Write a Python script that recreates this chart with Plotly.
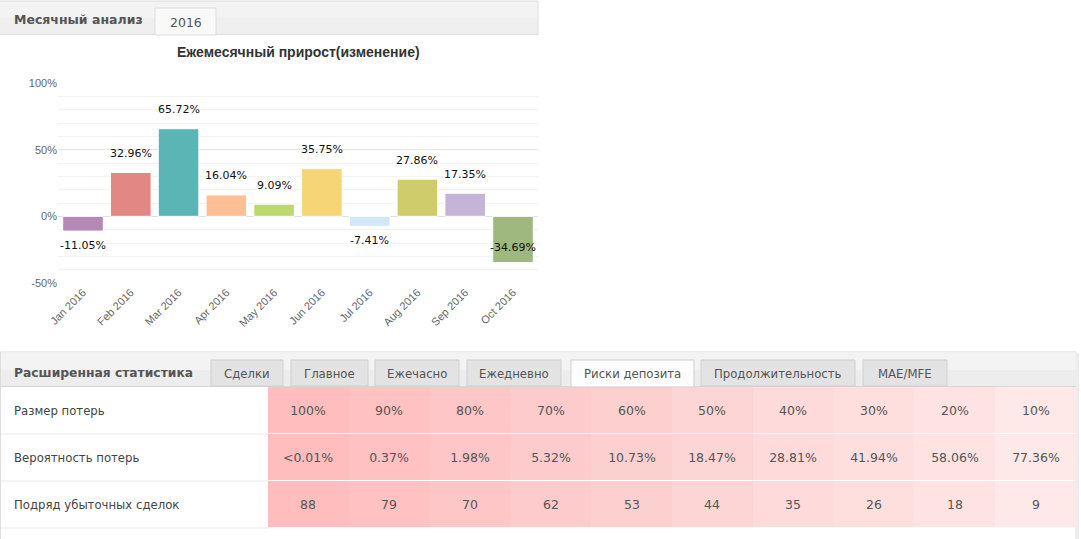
import plotly.graph_objects as go

W, H = 1081, 539

# ---------------- data ----------------
months = ["Jan 2016", "Feb 2016", "Mar 2016", "Apr 2016", "May 2016",
          "Jun 2016", "Jul 2016", "Aug 2016", "Sep 2016", "Oct 2016"]
growth = [-11.05, 32.96, 65.72, 16.04, 9.09, 35.75, -7.41, 27.86, 17.35, -34.69]
bar_colors = ["#b588b5", "#e38785", "#5bb5b5", "#ffbf94", "#bdd96b",
              "#f5d575", "#d1e6f7", "#cfcc6b", "#c4b5d6", "#9eb87f"]
y_tickvals = [-50, 0, 50, 100]
y_ticktext = ["-50%", "0%", "50%", "100%"]

row_labels = ["Размер потерь", "Вероятность потерь", "Подряд убыточных сделок"]
loss_size = ["100%", "90%", "80%", "70%", "60%", "50%", "40%", "30%", "20%", "10%"]
loss_prob = ["<0.01%", "0.37%", "1.98%", "5.32%", "10.73%", "18.47%",
             "28.81%", "41.94%", "58.06%", "77.36%"]
loss_streak = ["88", "79", "70", "62", "53", "44", "35", "26", "18", "9"]
cell_colors = ["#ffbdbd", "#ffc1c1", "#fec6c6", "#fdcbcb", "#fdd0d0",
               "#fdd5d5", "#ffdada", "#ffdede", "#ffe3e3", "#ffe8e8"]

top_tabs = ["Месячный анализ", "2016"]
stat_title = "Расширенная статистика"
stat_tabs = ["Сделки", "Главное", "Ежечасно", "Ежедневно", "Риски депозита",
             "Продолжительность", "MAE/MFE"]
chart_title = "Ежемесячный прирост(изменение)"


def px(x):
    return x / W


def py(y):
    return 1 - y / H


def clamp(v):
    return max(0.0, min(1.0, v))


fig = go.Figure()

# ---------------- bar chart ----------------
fig.add_trace(go.Bar(
    x=months, y=growth, marker=dict(color=bar_colors, line=dict(color="white", width=1)),
    xaxis="x", yaxis="y", hoverinfo="skip", showlegend=False,
))

# ---------------- table as heatmap ----------------
cols = list(range(len(loss_size)))
z = [cols[:] for _ in row_labels]
text = [loss_size, loss_prob, loss_streak]
n = len(cell_colors)
cscale = [[i / (n - 1), c] for i, c in enumerate(cell_colors)]
fig.add_trace(go.Heatmap(
    x=cols, y=row_labels, z=z, text=text, texttemplate="%{text}",
    textfont=dict(family="DejaVu Sans", size=12.5, color="#555555"),
    colorscale=cscale, zmin=0, zmax=n - 1, showscale=False, ygap=1,
    xaxis="x2", yaxis="y2", hoverinfo="skip",
))

shapes = []
annotations = []

# ---- top header chrome ----
shapes.append(dict(type="rect", xref="paper", yref="paper", x0=px(0), x1=px(538), y0=py(35), y1=py(1),
                   fillcolor="#efefef", line=dict(width=0), layer="below"))
shapes.append(dict(type="rect", xref="paper", yref="paper", x0=px(0), x1=px(538), y0=py(18), y1=py(1),
                   fillcolor="#f3f3f3", line=dict(width=0), layer="below"))
shapes.append(dict(type="line", xref="paper", yref="paper", x0=px(0), x1=px(538), y0=py(1), y1=py(1),
                   line=dict(color="#dcdcdc", width=1)))
shapes.append(dict(type="line", xref="paper", yref="paper", x0=px(0), x1=px(538), y0=py(34.5), y1=py(34.5),
                   line=dict(color="#dddddd", width=1)))
shapes.append(dict(type="line", xref="paper", yref="paper", x0=px(538), x1=px(538), y0=py(1), y1=py(35),
                   line=dict(color="#dddddd", width=1)))
shapes.append(dict(type="rect", xref="paper", yref="paper", x0=px(155), x1=px(216), y0=py(35), y1=py(8),
                   fillcolor="#f9f9f9", line=dict(color="#dddddd", width=1)))
annotations.append(dict(text="<b>" + top_tabs[0] + "</b>", xref="paper", yref="paper", x=px(12), y=py(20),
                        xanchor="left", yanchor="middle", showarrow=False,
                        font=dict(family="DejaVu Sans", size=12.5, color="#555555")))
annotations.append(dict(text=top_tabs[1], xref="paper", yref="paper", x=px(185.5), y=py(22),
                        xanchor="center", yanchor="middle", showarrow=False,
                        font=dict(family="DejaVu Sans", size=12.5, color="#555555")))
annotations.append(dict(text="<b>" + chart_title + "</b>", xref="paper", yref="paper", x=px(298), y=py(52),
                        xanchor="center", yanchor="middle", showarrow=False,
                        font=dict(family="Liberation Sans", size=14, color="#333333")))

# ---- bar value labels ----
for m, v in zip(months, growth):
    if v >= 0:
        ys = 19
    elif v > -30:
        ys = -14
    else:
        ys = 15
    annotations.append(dict(text=f"{v:.2f}%", x=m, y=v, xref="x", yref="y", yshift=ys,
                            xanchor="center", yanchor="middle", showarrow=False,
                            font=dict(family="DejaVu Sans", size=11, color="#111111")))

# ---- statistics box chrome ----
shapes.append(dict(type="rect", xref="paper", yref="paper", x0=px(0.5), x1=px(1076), y0=py(540), y1=py(352),
                   fillcolor="white", line=dict(color="#dddddd", width=1), layer="below"))
shapes.append(dict(type="rect", xref="paper", yref="paper", x0=px(1076.5), x1=px(1079), y0=py(540), y1=py(353),
                   fillcolor="#ececec", line=dict(width=0), layer="below"))
shapes.append(dict(type="rect", xref="paper", yref="paper", x0=px(1), x1=px(1075.5), y0=py(386), y1=py(352.5),
                   fillcolor="#ededed", line=dict(width=0), layer="below"))
shapes.append(dict(type="rect", xref="paper", yref="paper", x0=px(1), x1=px(1075.5), y0=py(370), y1=py(352.5),
                   fillcolor="#f3f3f3", line=dict(width=0), layer="below"))
shapes.append(dict(type="line", xref="paper", yref="paper", x0=px(0), x1=px(1076), y0=py(386.5), y1=py(386.5),
                   line=dict(color="#d6d6d6", width=1)))
annotations.append(dict(text="<b>" + stat_title + "</b>", xref="paper", yref="paper", x=px(12), y=py(373),
                        xanchor="left", yanchor="middle", showarrow=False,
                        font=dict(family="DejaVu Sans", size=12.3, color="#555555")))
tab_ranges = [(211, 283), (291, 368), (375, 459), (467, 561), (571, 694), (701, 855), (863, 947)]
for name, (a, b) in zip(stat_tabs, tab_ranges):
    active = name == "Риски депозита"
    shapes.append(dict(type="rect", xref="paper", yref="paper", x0=px(a), x1=px(b),
                       y0=py(387 if active else 386), y1=py(360),
                       fillcolor="#fdfdfd" if active else "#e3e3e3",
                       line=dict(color="#cfcfcf", width=1)))
    annotations.append(dict(text=name, xref="paper", yref="paper", x=px((a + b) / 2), y=py(374),
                            xanchor="center", yanchor="middle", showarrow=False,
                            font=dict(family="DejaVu Sans", size=11.7, color="#555555")))

# row separators in label column
for yy in (434, 481, 528):
    shapes.append(dict(type="line", xref="paper", yref="paper", x0=px(1), x1=px(268), y0=py(yy), y1=py(yy),
                       line=dict(color="#ebebeb", width=1)))
# row labels
for lab in row_labels:
    annotations.append(dict(text=lab, xref="paper", yref="y2", x=px(12), y=lab,
                            xanchor="left", yanchor="middle", showarrow=False,
                            font=dict(family="DejaVu Sans", size=11.7, color="#444444")))

fig.update_layout(
    template="none",
    width=W, height=H, autosize=False,
    margin=dict(l=0, r=0, t=0, b=0, pad=0, autoexpand=False),
    paper_bgcolor="white", plot_bgcolor="rgba(0,0,0,0)",
    bargap=0.15, showlegend=False,
    xaxis=dict(domain=[clamp(px(58)), clamp(px(538))], anchor="y", tickangle=-45, showgrid=False,
               automargin=False, zeroline=False,
               showline=False, ticks="", tickfont=dict(family="Liberation Sans", size=11, color="#666666"),
               fixedrange=True),
    yaxis=dict(domain=[clamp(py(283)), clamp(py(83))], anchor="x", range=[-50, 100], automargin=False,
               tickmode="array", tickvals=y_tickvals, ticktext=y_ticktext,
               showgrid=True, gridcolor="#e3e3e3", gridwidth=1, zeroline=True, zerolinecolor="#e0e0e0",
               zerolinewidth=1, showline=False, ticks="",
               tickfont=dict(family="Liberation Sans", size=11, color="#666666"),
               minor=dict(dtick=10, tick0=0, showgrid=True, gridcolor="#f3f3f3", gridwidth=1, ticks=""),
               fixedrange=True),
    xaxis2=dict(domain=[clamp(px(268)), clamp(px(1076))], anchor="y2", visible=False, automargin=False,
                fixedrange=True),
    yaxis2=dict(domain=[clamp(py(528)), clamp(py(387))], anchor="x2", visible=False, automargin=False,
                autorange="reversed", fixedrange=True),
    shapes=shapes, annotations=annotations,
)

fig.write_html("out.html", config={"displayModeBar": False})
